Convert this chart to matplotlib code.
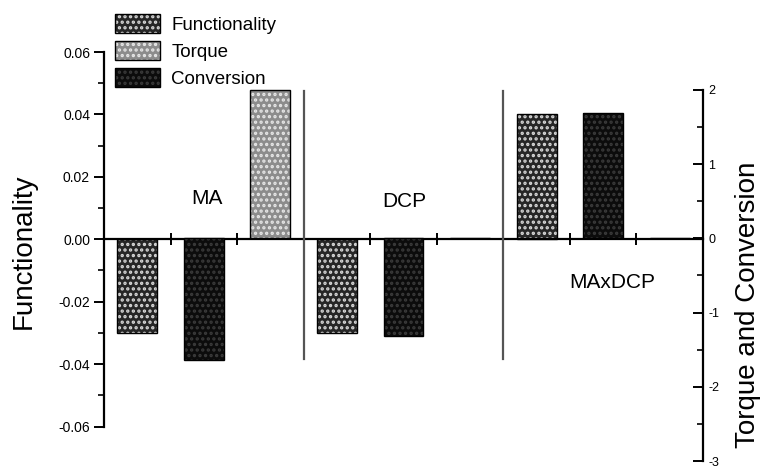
import matplotlib
matplotlib.use("Agg")
import matplotlib.pyplot as plt
from matplotlib.patches import Patch
from matplotlib.legend_handler import HandlerTuple
from matplotlib.ticker import FixedLocator

plt.rcParams['font.family'] = ['Liberation Sans', 'DejaVu Sans']
plt.rcParams['hatch.linewidth'] = 1.6

groups = ["MA", "DCP", "MAxDCP"]
series = ["Functionality", "Torque", "Conversion"]
functionality = [-0.030, -0.030, 0.040]   # left axis
conversion = [-1.64, -1.32, 1.69]         # right axis
torque = [2.00, 0.0, 0.0]                 # right axis
left_ticks = [-0.06, -0.04, -0.02, 0.00, 0.02, 0.04, 0.06]
left_tick_labels = ["-0.06", "-0.04", "-0.02", "0.00", "0.02", "0.04", "0.06"]
left_minor = [-0.05, -0.03, -0.01, 0.01, 0.03, 0.05]
right_ticks = [-3, -2, -1, 0, 1, 2]
right_tick_labels = ["-3", "-2", "-1", "0", "1", "2"]
right_minor = [-2.5, -1.5, -0.5, 0.5, 1.5]

colors = {"Functionality": "#262626", "Torque": "#8c8c8c", "Conversion": "#0c0c0c"}
dotcol = {"Functionality": "#d8d8d8", "Torque": "#e6e6e6", "Conversion": "#3a3a3a"}

W, H = 763, 467
Y0 = 239          # pixel row of zero
BOT = 461         # pixel row of axes bottom
TOP = 52
LPX = 3125.0      # px per unit, left axis
RPX = 74.5        # px per unit, right axis

fig = plt.figure(figsize=(W / 100, H / 100), dpi=100)
ax = fig.add_axes([104 / W, 1 - BOT / H, (703 - 104) / W, (BOT - TOP) / H])
ax2 = ax.twinx()

ax.set_xlim(0, 9)
ax.set_ylim(-(BOT - Y0) / LPX, (Y0 - TOP) / LPX)
ax2.set_ylim(-(BOT - Y0) / RPX, (Y0 - TOP) / RPX)

bw = 0.6
idx = range(len(groups))
xf = [3 * i + 0.5 for i in idx]
xc = [3 * i + 1.5 for i in idx]
xt = [3 * i + 2.5 for i in idx]


def hbars(a, x, vals, name):
    a.bar(x, vals, bw, color=colors[name], edgecolor=dotcol[name], hatch='...', lw=0, zorder=2)
    a.bar(x, vals, bw, fill=False, edgecolor='black', lw=1.0, zorder=3)


hbars(ax, xf, functionality, "Functionality")
hbars(ax2, xc, conversion, "Conversion")
hbars(ax2, xt, torque, "Torque")

# separators
for xs in [3, 6]:
    ax2.plot([xs, xs], [1.98, -1.62], color='#555555', lw=1.6, zorder=4)

# spines
ax.spines['top'].set_visible(False)
ax2.spines['top'].set_visible(False)
ax2.spines['left'].set_visible(False)
ax2.spines['bottom'].set_visible(False)
ax.spines['right'].set_visible(False)
ax.spines['bottom'].set_position(('data', 0))
ax.spines['bottom'].set_linewidth(1.6)
ax.spines['left'].set_bounds(-0.06, 0.06)
ax.spines['left'].set_linewidth(1.6)
ax2.spines['right'].set_bounds(-3, 2)
ax2.spines['right'].set_linewidth(1.6)

ax.set_xticks(range(1, 9))
ax.tick_params(axis='x', direction='inout', length=8, width=1.4, labelbottom=False)

ax.set_yticks(left_ticks)
ax.set_yticklabels(left_tick_labels)
ax.yaxis.set_minor_locator(FixedLocator(left_minor))
ax.tick_params(axis='y', which='major', direction='out', length=7, width=1.4, labelsize=10, pad=3)
ax.tick_params(axis='y', which='minor', direction='out', length=4, width=1.2)

ax2.set_yticks(right_ticks)
ax2.set_yticklabels(right_tick_labels)
ax2.yaxis.set_minor_locator(FixedLocator(right_minor))
ax2.tick_params(axis='y', which='major', direction='in', length=7, width=1.4, labelsize=9, pad=4)
ax2.tick_params(axis='y', which='minor', direction='in', length=4, width=1.2)

# axis labels
fig.text(24 / W, 1 - 251 / H, "Functionality", rotation=90, ha='center', va='center', fontsize=20)
fig.text(748 / W, 1 - 305 / H, "Torque and Conversion", rotation=90, ha='center', va='center', fontsize=20)

# group labels
fig.text(207 / W, 1 - 198 / H, groups[0], ha='center', va='center', fontsize=15)
fig.text(404 / W, 1 - 202 / H, groups[1], ha='center', va='center', fontsize=15)
fig.text(612 / W, 1 - 282 / H, groups[2], ha='center', va='center', fontsize=15)

# legend
handles = []
for name in series:
    p1 = Patch(facecolor=colors[name], edgecolor=dotcol[name], hatch='...', lw=0)
    p2 = Patch(fill=False, edgecolor='black', lw=1.0)
    handles.append((p1, p2))
leg = fig.legend(handles, series, handler_map={tuple: HandlerTuple(ndivide=1, pad=0)},
                 loc='upper left', bbox_to_anchor=(115 / W, 1 - 14 / H),
                 frameon=False, fontsize=13.5, handlelength=2.4, handleheight=1.15,
                 handletextpad=0.6, labelspacing=0.4, borderpad=0, borderaxespad=0)

fig.savefig("out.png", dpi=100)
